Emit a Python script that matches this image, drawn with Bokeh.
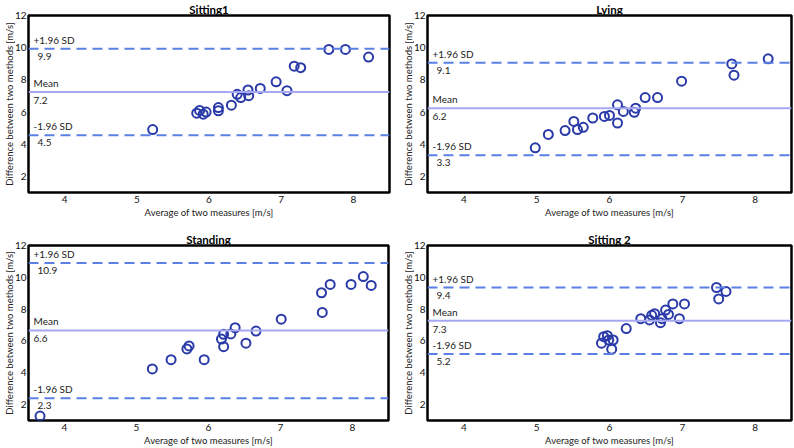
from bokeh.plotting import figure
from bokeh.layouts import column, row
from bokeh.models import Span, Label, FixedTicker, Title
from bokeh.embed import file_html
from bokeh.resources import INLINE

# ---------------- data ----------------
titles = ["Sitting1", "Lying", "Standing", "Sitting 2"]
x_ticks = [4, 5, 6, 7, 8]
y_ticks = [2, 4, 6, 8, 10, 12]
x_label = "Average of two measures [m/s]"
y_label = "Difference between two methods [m/s]"

sit1_x = [5.22, 5.83, 5.87, 5.92, 5.96, 6.13, 6.13, 6.31, 6.39, 6.44, 6.54, 6.55, 6.71, 6.93, 7.08, 7.18, 7.27, 7.66, 7.89, 8.21]
sit1_y = [4.91, 5.93, 6.10, 5.87, 6.00, 6.28, 6.08, 6.43, 7.10, 6.90, 7.37, 7.02, 7.47, 7.88, 7.33, 8.85, 8.76, 9.89, 9.89, 9.42]
sit1_lines = [9.93, 7.25, 4.56]
sit1_text = ["9.9", "7.2", "4.5"]

lying_x = [4.98, 5.16, 5.39, 5.51, 5.56, 5.64, 5.77, 5.93, 6.00, 6.11, 6.11, 6.19, 6.34, 6.36, 6.49, 6.66, 6.99, 7.68, 7.71, 8.18]
lying_y = [3.78, 4.61, 4.85, 5.42, 4.91, 5.05, 5.63, 5.73, 5.79, 6.45, 5.32, 6.04, 5.98, 6.24, 6.90, 6.90, 7.92, 8.99, 8.29, 9.31]
lying_lines = [9.07, 6.24, 3.32]
lying_text = ["9.1", "6.2", "3.3"]

stand_x = [3.66, 5.22, 5.48, 5.70, 5.73, 5.94, 6.18, 6.21, 6.21, 6.31, 6.37, 6.52, 6.66, 7.01, 7.57, 7.58, 7.69, 7.98, 8.15, 8.26]
stand_y = [1.28, 4.24, 4.82, 5.50, 5.69, 4.82, 6.12, 6.42, 5.64, 6.44, 6.83, 5.86, 6.62, 7.37, 9.03, 7.79, 9.55, 9.55, 10.05, 9.49]
stand_lines = [10.90, 6.66, 2.40]
stand_text = ["10.9", "6.6", "2.3"]

sit2_x = [5.89, 5.92, 5.97, 5.99, 6.05, 6.03, 6.23, 6.43, 6.55, 6.58, 6.62, 6.70, 6.72, 6.77, 6.81, 6.87, 6.96, 7.03, 7.47, 7.50, 7.60]
sit2_y = [5.86, 6.27, 6.33, 6.06, 6.06, 5.48, 6.78, 7.40, 7.32, 7.61, 7.71, 7.15, 7.40, 7.94, 7.67, 8.33, 7.40, 8.33, 9.36, 8.64, 9.11]
sit2_lines = [9.36, 7.27, 5.18]
sit2_text = ["9.4", "7.3", "5.2"]

FONT = "Lato"
PT_COLOR = "#2a3aa8"
SD_COLOR = "#5b7fe3"
MEAN_COLOR = "#a6a8f2"


def panel(title, xs, ys, lines, texts, borders):
    left, right, top, bottom = borders
    p = figure(width=397, height=224, x_range=(3.5, 8.5), y_range=(1, 12),
               output_backend="svg", toolbar_location=None,
               min_border_left=left, min_border_right=right,
               min_border_top=top, min_border_bottom=bottom)
    p.title = Title(text=title, align="center", text_font=FONT,
                    text_font_style="bold", text_font_size="11.5px",
                    text_color="black", standoff=0, offset=0)
    p.outline_line_color = "black"
    p.outline_line_width = 2.5
    p.outline_line_alpha = 1
    p.grid.visible = False
    p.background_fill_color = "white"
    p.border_fill_color = "white"
    for ax in (p.xaxis[0], p.yaxis[0]):
        ax.axis_line_color = None
        ax.major_tick_line_color = None
        ax.minor_tick_line_color = None
        ax.major_tick_out = 0
        ax.major_tick_in = 0
        ax.minor_tick_out = 0
        ax.minor_tick_in = 0
        ax.major_label_text_font = FONT
        ax.major_label_text_font_size = "10px"
        ax.major_label_text_color = "#111111"
        ax.axis_label_text_font = FONT
        ax.axis_label_text_font_size = "9.5px"
        ax.axis_label_text_font_style = "normal"
        ax.axis_label_text_color = "#222222"
    p.yaxis[0].major_label_standoff = 2
    p.yaxis[0].axis_label_standoff = -3
    p.xaxis[0].major_label_standoff = 3
    p.xaxis[0].axis_label_standoff = 1
    p.xaxis[0].ticker = FixedTicker(ticks=x_ticks)
    p.yaxis[0].ticker = FixedTicker(ticks=y_ticks)
    p.xaxis[0].axis_label = x_label
    p.yaxis[0].axis_label = y_label

    up, mean, low = lines
    p.add_layout(Span(location=up, dimension="width", line_color=SD_COLOR,
                      line_width=2, line_dash="10 6"))
    p.add_layout(Span(location=low, dimension="width", line_color=SD_COLOR,
                      line_width=2, line_dash="10 6"))
    p.add_layout(Span(location=mean, dimension="width", line_color=MEAN_COLOR,
                      line_width=2))

    p.scatter(xs, ys, marker="circle", size=9, fill_color=None,
              line_color=PT_COLOR, line_width=2)

    def lab(y, txt, xo, yo, base):
        p.add_layout(Label(x=3.5, y=y, text=txt, x_offset=xo, y_offset=yo,
                           text_baseline=base, text_font=FONT,
                           text_font_size="10px", text_color="#222222"))

    lab(up, "+1.96 SD", 5, 3, "bottom")
    lab(up, texts[0], 9, -4, "top")
    lab(mean, "Mean", 5, 3, "bottom")
    lab(mean, texts[1], 5, -5, "top")
    lab(low, "-1.96 SD", 5, 3, "bottom")
    lab(low, texts[2], 9, -4, "top")
    return p


p1 = panel(titles[0], sit1_x, sit1_y, sit1_lines, sit1_text, (26, 8, 13, 32))
p2 = panel(titles[1], lying_x, lying_y, lying_lines, lying_text, (30, 3, 13, 32))
p3 = panel(titles[2], stand_x, stand_y, stand_lines, stand_text, (25, 9, 21, 27))
p4 = panel(titles[3], sit2_x, sit2_y, sit2_lines, sit2_text, (30, 3, 19, 27))

layout = column(row(p1, p2), row(p3, p4))

open("out.html", "w").write(file_html(layout, INLINE))
